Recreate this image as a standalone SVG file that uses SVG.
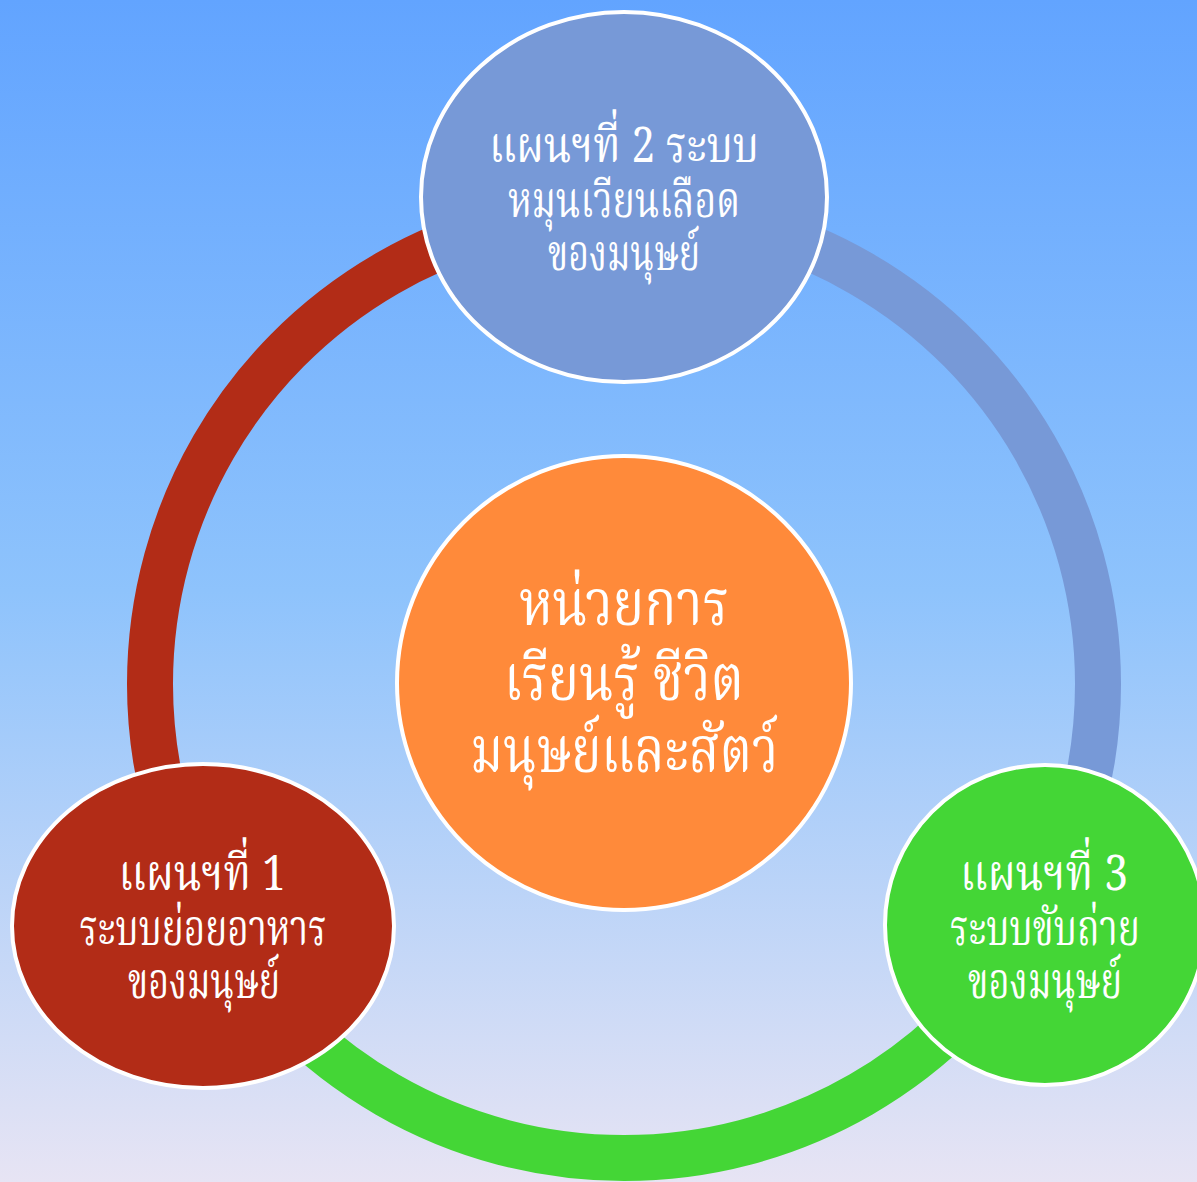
<svg xmlns="http://www.w3.org/2000/svg" width="1197" height="1182" viewBox="0 0 1197 1182">
  <defs>
    <linearGradient id="bg" x1="0" y1="0" x2="0" y2="1">
      <stop offset="0" stop-color="#62A4FF"/>
      <stop offset="0.5" stop-color="#8EC3FC"/>
      <stop offset="1" stop-color="#E7E4F4"/>
    </linearGradient>
  </defs>
  <style>
    .node { stroke: #FFFFFF; stroke-width: 4; }
    .arc { fill: none; stroke-width: 46; stroke-linecap: butt; }
    .t { fill: #FFFFFF; font-family: "Noto Serif Thai", "Noto Sans Thai", "Liberation Serif", serif; text-anchor: middle; }
    .s { font-size: 50px; }
    .c { font-size: 64px; }
  </style>
  <rect x="0" y="0" width="1197" height="1182" fill="url(#bg)"/>
  <g id="connectors">
    <!-- red: 150deg to 270deg -->
    <path class="arc" stroke="#B22C17" d="M 213.5 921 A 474 474 0 0 1 624 210"/>
    <!-- blue: 270deg to 30deg -->
    <path class="arc" stroke="#7799D7" d="M 624 210 A 474 474 0 0 1 1034.5 921"/>
    <!-- green: 30deg to 150deg -->
    <path class="arc" stroke="#44D636" d="M 1034.5 921 A 474 474 0 0 1 213.5 921"/>
  </g>
  <g id="node-top">
    <ellipse class="node" cx="624" cy="197" rx="203" ry="185" fill="#7799D7"/>
    <text class="t s" x="624" y="162" textLength="270" lengthAdjust="spacingAndGlyphs">แผนฯที่ 2 ระบบ</text>
    <text class="t s" x="624" y="217" textLength="232" lengthAdjust="spacingAndGlyphs">หมุนเวียนเลือด</text>
    <text class="t s" x="624" y="270" textLength="152" lengthAdjust="spacingAndGlyphs">ของมนุษย์</text>
  </g>
  <g id="node-center">
    <circle class="node" cx="624" cy="683" r="227" fill="#FF8A3A"/>
    <text class="t c" x="624" y="625" textLength="210" lengthAdjust="spacingAndGlyphs">หน่วยการ</text>
    <text class="t c" x="624" y="700" textLength="240" lengthAdjust="spacingAndGlyphs">เรียนรู้ ชีวิต</text>
    <text class="t c" x="624" y="772" textLength="308" lengthAdjust="spacingAndGlyphs">มนุษย์และสัตว์</text>
  </g>
  <g id="node-1">
    <ellipse class="node" cx="203" cy="926" rx="191" ry="162" fill="#B22C17"/>
    <text class="t s" x="202" y="890" textLength="167" lengthAdjust="spacingAndGlyphs">แผนฯที่ 1</text>
    <text class="t s" x="203" y="945" textLength="247" lengthAdjust="spacingAndGlyphs">ระบบย่อยอาหาร</text>
    <text class="t s" x="204" y="998" textLength="152" lengthAdjust="spacingAndGlyphs">ของมนุษย์</text>
  </g>
  <g id="node-3">
    <circle class="node" cx="1045" cy="925" r="160" fill="#44D636"/>
    <text class="t s" x="1044" y="890" textLength="168" lengthAdjust="spacingAndGlyphs">แผนฯที่ 3</text>
    <text class="t s" x="1045" y="945" textLength="190" lengthAdjust="spacingAndGlyphs">ระบบขับถ่าย</text>
    <text class="t s" x="1045" y="998" textLength="154" lengthAdjust="spacingAndGlyphs">ของมนุษย์</text>
  </g>
</svg>
